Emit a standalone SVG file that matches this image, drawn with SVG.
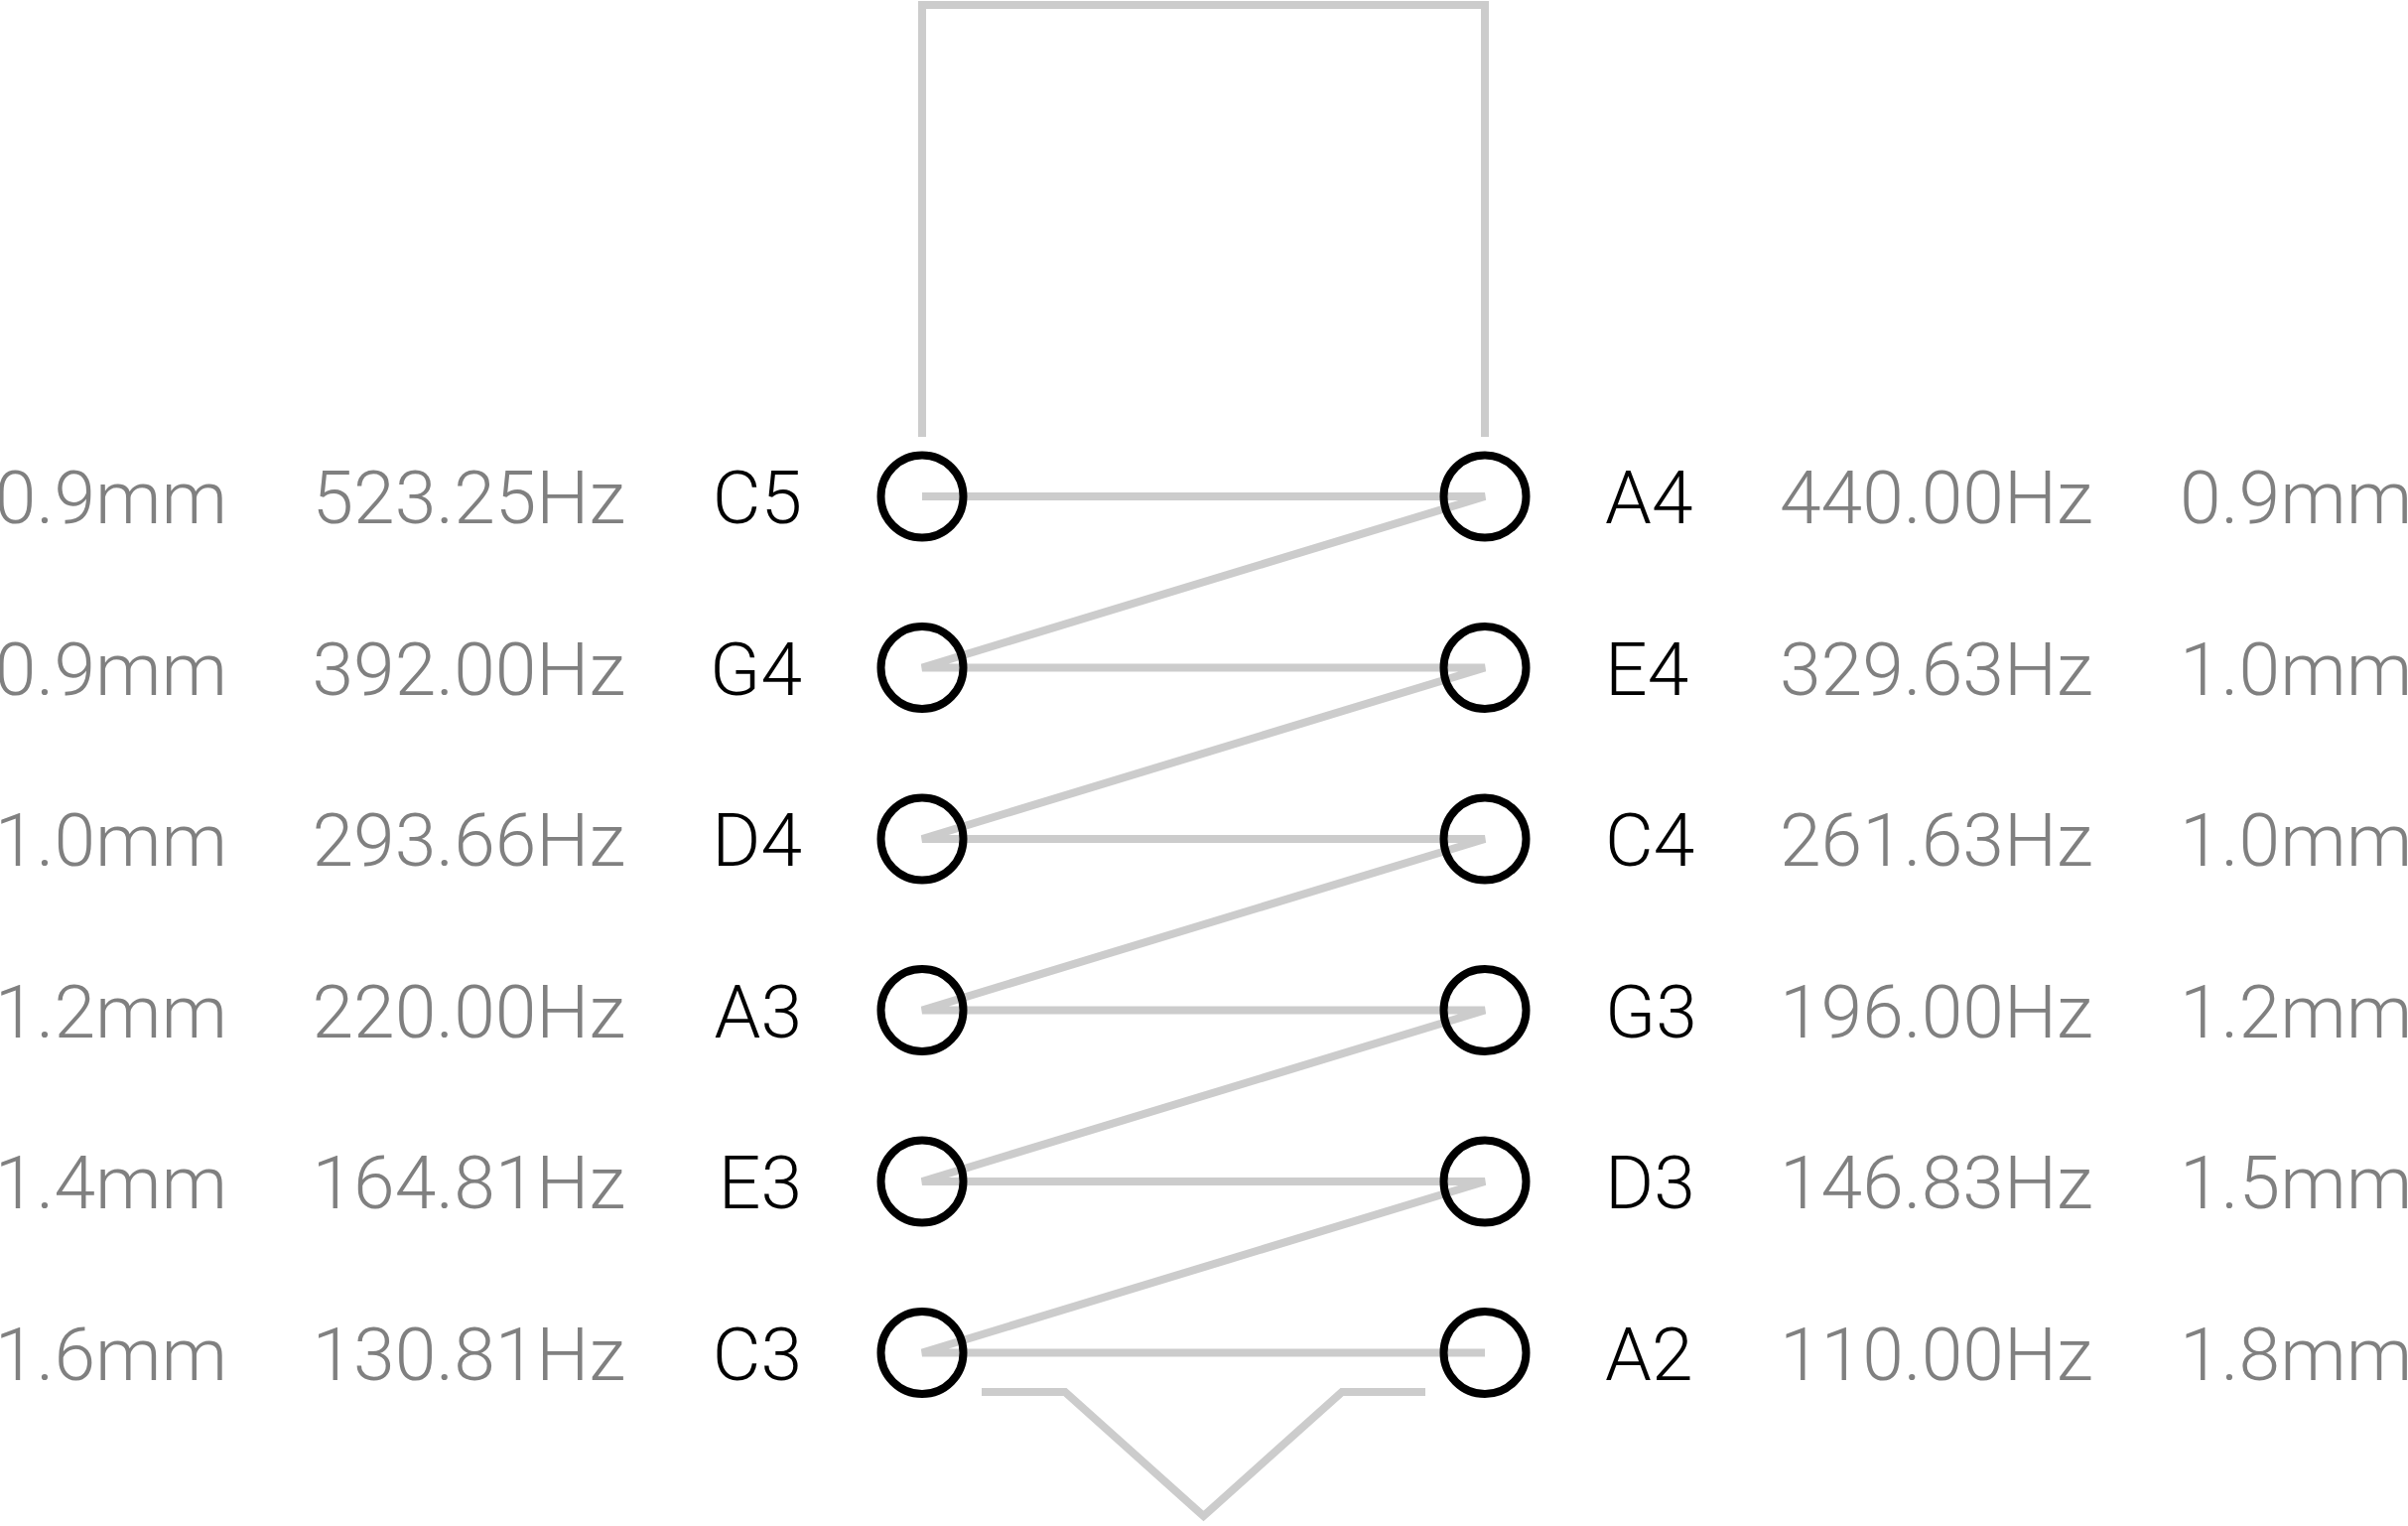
<svg xmlns="http://www.w3.org/2000/svg" width="2426" height="1537" viewBox="0 0 2426 1537">
<style>
.ln{fill:none;stroke:#cccccc;stroke-width:8;stroke-linecap:butt;stroke-linejoin:miter}
.nd{fill:none;stroke:#000;stroke-width:8}
text{font-family:Roboto,"Liberation Sans",sans-serif;font-weight:300;font-size:75px}
.g{fill:#808080}
.k{fill:#000}
.e{text-anchor:end}
.s{text-anchor:start}
</style>
<rect width="2426" height="1537" fill="#fff"/>
<g id="connectors">
<path class="ln" d="M929,440 V5 H1496 V440"/>
<path class="ln" d="M989,1402 H1073 L1212.5,1527 L1352,1402 H1436"/>
<path class="ln" d="M929,500 H1496 L929,672.5 H1496 L929,845 H1496 L929,1017.5 H1496 L929,1190 H1496 L929,1362.5 H1496"/>
</g>
<g id="C5"><circle class="nd" cx="929" cy="500" r="41.5"/><text class="k e" x="808" y="527">C5</text><text class="g e" x="630" y="527">523.25Hz</text><text class="g e" x="229" y="527">0.9mm</text></g>
<g id="G4"><circle class="nd" cx="929" cy="672.5" r="41.5"/><text class="k e" x="808" y="699.5">G4</text><text class="g e" x="630" y="699.5">392.00Hz</text><text class="g e" x="229" y="699.5">0.9mm</text></g>
<g id="D4"><circle class="nd" cx="929" cy="845" r="41.5"/><text class="k e" x="808" y="872">D4</text><text class="g e" x="630" y="872">293.66Hz</text><text class="g e" x="229" y="872">1.0mm</text></g>
<g id="A3"><circle class="nd" cx="929" cy="1017.5" r="41.5"/><text class="k e" x="808" y="1044.5">A3</text><text class="g e" x="630" y="1044.5">220.00Hz</text><text class="g e" x="229" y="1044.5">1.2mm</text></g>
<g id="E3"><circle class="nd" cx="929" cy="1190" r="41.5"/><text class="k e" x="808" y="1217">E3</text><text class="g e" x="630" y="1217">164.81Hz</text><text class="g e" x="229" y="1217">1.4mm</text></g>
<g id="C3"><circle class="nd" cx="929" cy="1362.5" r="41.5"/><text class="k e" x="808" y="1389.5">C3</text><text class="g e" x="630" y="1389.5">130.81Hz</text><text class="g e" x="229" y="1389.5">1.6mm</text></g>
<g id="A4"><circle class="nd" cx="1496" cy="500" r="41.5"/><text class="k s" x="1617" y="527">A4</text><text class="g s" x="1793" y="527">440.00Hz</text><text class="g s" x="2196" y="527">0.9mm</text></g>
<g id="E4"><circle class="nd" cx="1496" cy="672.5" r="41.5"/><text class="k s" x="1617" y="699.5">E4</text><text class="g s" x="1793" y="699.5">329.63Hz</text><text class="g s" x="2196" y="699.5">1.0mm</text></g>
<g id="C4"><circle class="nd" cx="1496" cy="845" r="41.5"/><text class="k s" x="1617" y="872">C4</text><text class="g s" x="1793" y="872">261.63Hz</text><text class="g s" x="2196" y="872">1.0mm</text></g>
<g id="G3"><circle class="nd" cx="1496" cy="1017.5" r="41.5"/><text class="k s" x="1617" y="1044.5">G3</text><text class="g s" x="1793" y="1044.5">196.00Hz</text><text class="g s" x="2196" y="1044.5">1.2mm</text></g>
<g id="D3"><circle class="nd" cx="1496" cy="1190" r="41.5"/><text class="k s" x="1617" y="1217">D3</text><text class="g s" x="1793" y="1217">146.83Hz</text><text class="g s" x="2196" y="1217">1.5mm</text></g>
<g id="A2"><circle class="nd" cx="1496" cy="1362.5" r="41.5"/><text class="k s" x="1617" y="1389.5">A2</text><text class="g s" x="1793" y="1389.5">110.00Hz</text><text class="g s" x="2196" y="1389.5">1.8mm</text></g>
</svg>
